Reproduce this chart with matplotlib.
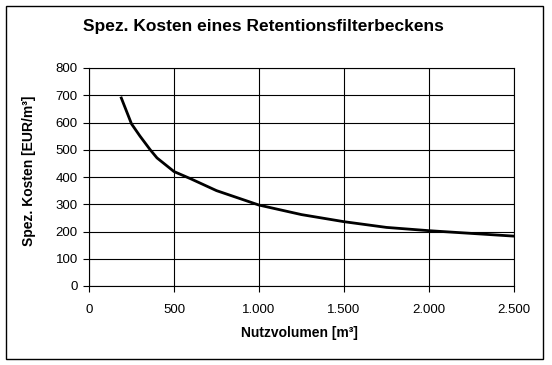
import matplotlib.pyplot as plt
from matplotlib.patches import Rectangle

plt.rcParams['font.family'] = ['Liberation Sans', 'DejaVu Sans']

# Nutzvolumen [m³] und spez. Kosten [EUR/m³]
volumen = [190, 250, 300, 360, 400, 500, 600, 750, 1000, 1250, 1500, 1750, 2000, 2250, 2500]
kosten = [690, 595, 550, 500, 470, 420, 393, 350, 297, 262, 236, 215, 203, 193, 183]

x_ticks = [0, 500, 1000, 1500, 2000, 2500]
x_labels = ["0", "500", "1.000", "1.500", "2.000", "2.500"]
y_ticks = list(range(0, 801, 100))

W, H = 552, 365
fig = plt.figure(figsize=(W / 100, H / 100), dpi=100)
ax = fig.add_axes([89 / W, 1 - 286 / H, (514 - 89) / W, (286 - 68) / H])

ax.plot(volumen, kosten, color="black", linewidth=2)

ax.set_xlim(0, 2500)
ax.set_ylim(0, 800)
ax.set_xticks(x_ticks)
ax.set_xticklabels(x_labels)
ax.set_yticks(y_ticks)
ax.grid(True, color="black", linewidth=0.8)
ax.set_axisbelow(True)
for s in ax.spines.values():
    s.set_color("black")
    s.set_linewidth(0.8)
ax.tick_params(labelsize=9.5, length=4, width=0.8, direction="out")
ax.tick_params(axis="x", pad=9)
ax.tick_params(axis="y", pad=4)

ax.set_xlabel("Nutzvolumen [m³]", fontsize=10, fontweight="bold")
ax.set_ylabel("Spez. Kosten [EUR/m³]", fontsize=10, fontweight="bold")
ax.xaxis.set_label_coords(0.494, -0.216)
ax.yaxis.set_label_coords(-0.141, 0.528)
ax.xaxis.label.set_va("center")
ax.yaxis.label.set_va("center")
fig.text(263 / W, 1 - 27 / H, "Spez. Kosten eines Retentionsfilterbeckens",
         ha="center", va="center", fontsize=12.5, fontweight="bold")

fig.patches.append(Rectangle((6 / W, 1 - 359 / H), (543 - 6) / W, (359 - 6) / H,
                             transform=fig.transFigure, fill=False,
                             edgecolor="black", linewidth=1))

fig.savefig("out.png", dpi=100)
